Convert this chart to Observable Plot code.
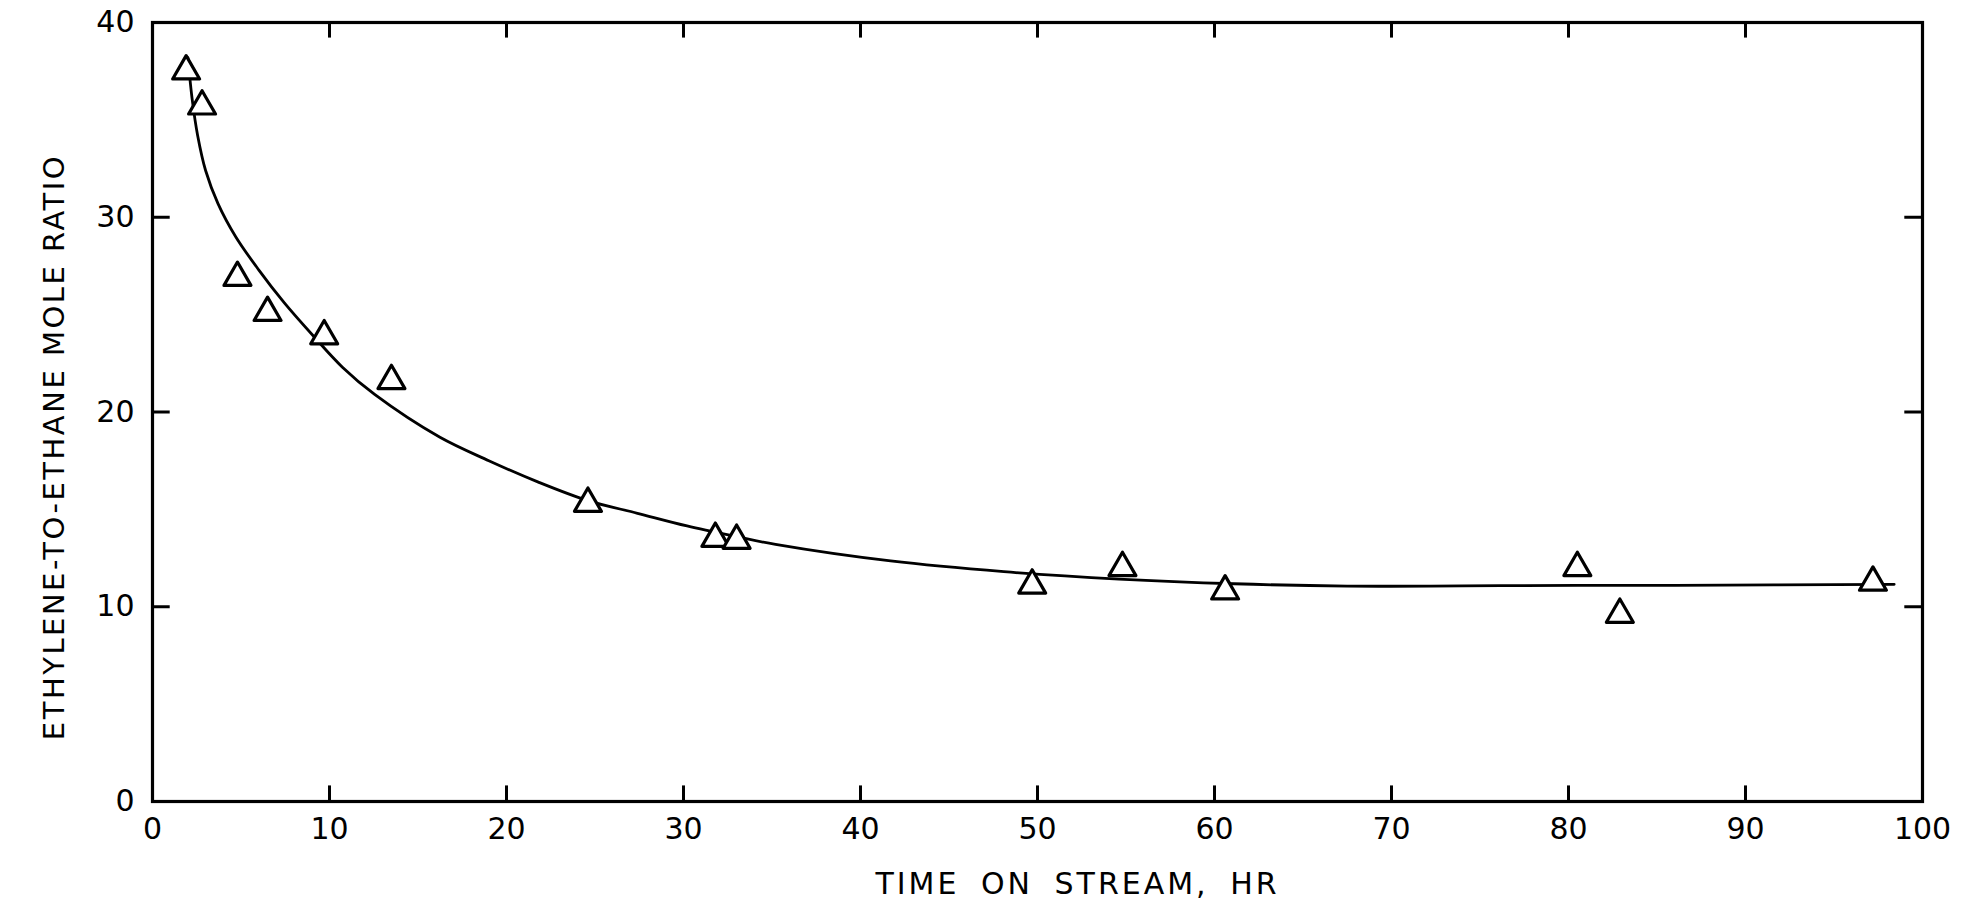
<!DOCTYPE html>
<html>
<head>
<meta charset="utf-8">
<script src="https://cdn.jsdelivr.net/npm/d3@7"></script>
<script src="https://cdn.jsdelivr.net/npm/@observablehq/plot@0.6"></script>
<style>
  html, body { margin: 0; padding: 0; background: #fff; }
  #chart svg { display: block; }
</style>
</head>
<body>
<div id="chart"></div>
<script>
// Measured data points (triangles)
const pointTime  = [1.9, 2.8, 4.8, 6.5, 9.7, 13.5, 24.6, 31.8, 33.0, 49.7, 54.8, 60.6, 80.5, 82.9, 97.2];
const pointRatio = [37.5, 35.7, 26.9, 25.1, 23.9, 21.6, 15.3, 13.5, 13.4, 11.1, 12.0, 10.8, 12.0, 9.6, 11.25];

// Hand-drawn smoothing curve, traced
const curveTime  = [2.0, 2.25, 2.55, 3.0, 3.7, 4.7, 6.0, 7.45, 9.09, 10.73, 12.55, 16.24, 19.0, 21.8, 24.6, 27.4, 30.2, 33.0, 35.2, 41.7, 48.1, 54.6, 61.1, 67.5, 74.0, 80.5, 86.0, 98.4];
const curveRatio = [38.2, 36.0, 34.2, 32.4, 30.7, 29.0, 27.3, 25.6, 23.9, 22.3, 20.9, 18.7, 17.5, 16.4, 15.45, 14.8, 14.15, 13.6, 13.2, 12.35, 11.8, 11.42, 11.18, 11.06, 11.07, 11.1, 11.1, 11.15];

// Axes
const xTicks = [0, 10, 20, 30, 40, 50, 60, 70, 80, 90, 100];
const yTicks = [0, 10, 20, 30, 40];
const xLabel = "TIME ON STREAM, HR";
const yLabel = "ETHYLENE-TO-ETHANE MOLE RATIO";

const points = pointTime.map((t, i) => ({t, r: pointRatio[i]}));
const curve = curveTime.map((t, i) => ({t, r: curveRatio[i]}));
const xInner = xTicks.slice(1, -1);
const yInner = yTicks.slice(1, -1);

const xMax = xTicks[xTicks.length - 1];
const yMax = yTicks[yTicks.length - 1];
const xTickLen = 0.8;   // inward tick length in y units
const yTickLen = 1.0;   // inward tick length in x units

const chart = Plot.plot({
  width: 1972,
  height: 907,
  marginLeft: 152,
  marginRight: 50,
  marginTop: 22,
  marginBottom: 106,
  style: {fontFamily: "'DejaVu Sans', sans-serif", fontSize: "29px", color: "#000", background: "#fff"},
  x: {domain: [0, xMax]},
  y: {domain: [0, yMax]},
  marks: [
    Plot.axisX(xTicks, {tickSize: 0, tickPadding: 16, tickFormat: d => String(d), label: null, fontSize: 30}),
    Plot.axisY(yTicks, {tickSize: 0, tickPadding: 18, tickFormat: d => String(d), label: null, fontSize: 30}),
    // inward ticks on all four sides
    Plot.ruleX(xInner, {x: d => d, y1: 0, y2: xTickLen, stroke: "#000", strokeWidth: 3}),
    Plot.ruleX(xInner, {x: d => d, y1: yMax - xTickLen, y2: yMax, stroke: "#000", strokeWidth: 3}),
    Plot.ruleY(yInner, {y: d => d, x1: 0, x2: yTickLen, stroke: "#000", strokeWidth: 3}),
    Plot.ruleY(yInner, {y: d => d, x1: xMax - yTickLen, x2: xMax, stroke: "#000", strokeWidth: 3}),
    Plot.frame({stroke: "#000", strokeWidth: 3.2}),
    Plot.line(curve, {x: "t", y: "r", curve: "catmull-rom", stroke: "#000", strokeWidth: 2.8}),
    Plot.dot(points, {x: "t", y: "r", symbol: "triangle", r: 10, stroke: "#000", strokeWidth: 3.2, fill: "#fff", strokeLinejoin: "round"}),
    Plot.text([xLabel], {frameAnchor: "bottom", lineAnchor: "middle", textAnchor: "middle", dx: 40, dy: 83, fontSize: 30, fill: "#000", text: d => d}),
    Plot.text([yLabel], {frameAnchor: "left", lineAnchor: "middle", textAnchor: "middle", rotate: -90, dx: -98, dy: 35, fontSize: 29, fill: "#000", text: d => d})
  ]
});

d3.select(chart).selectAll("text").each(function() {
  const s = this.textContent;
  if (s === xLabel) { this.style.letterSpacing = "3px"; this.style.wordSpacing = "9px"; }
  if (s === yLabel) { this.style.letterSpacing = "2.5px"; }
});

document.getElementById("chart").appendChild(chart);
</script>
</body>
</html>
